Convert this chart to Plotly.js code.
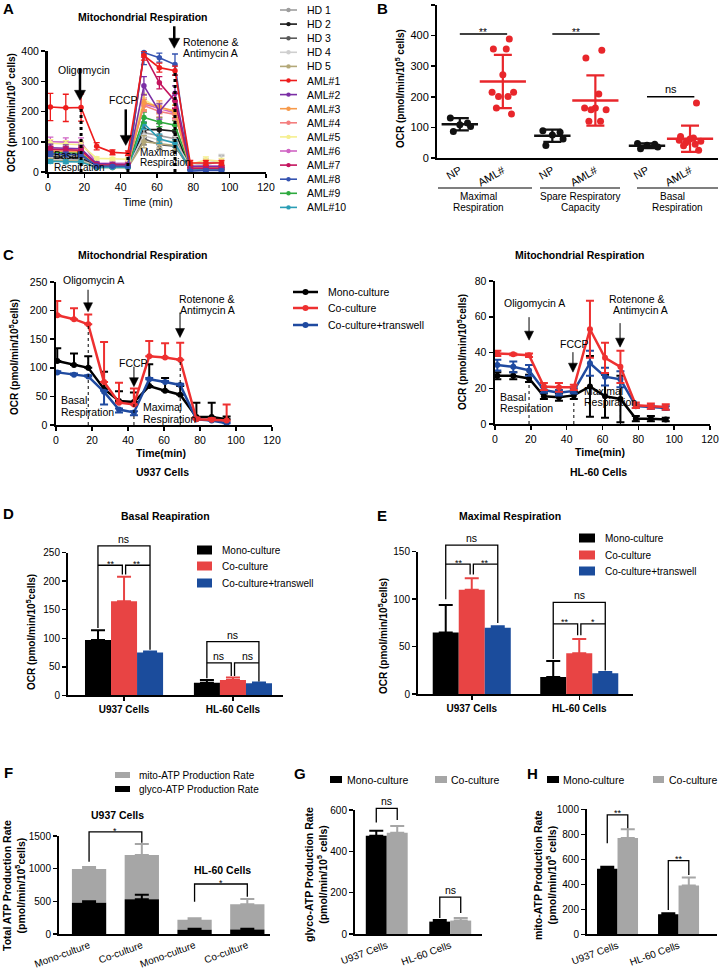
<!DOCTYPE html>
<html><head><meta charset="utf-8">
<script src="https://cdn.plot.ly/plotly-3.0.1.min.js"></script>
<style>html,body{margin:0;padding:0;background:#fff}#fig{width:720px;height:969px}</style>
</head><body><div id="fig"></div>
<script>
const W=720,H=969;
const FONT='Liberation Sans, Arial, sans-serif';

// ---------- Panel A data ----------
const tA=[1.3,9.8,18.2,26.8,35.5,44,52.8,61.3,69.9,78.3,86.9,95.5];
const aNames=['HD 1','HD 2','HD 3','HD 4','HD 5','AML#1','AML#2','AML#3','AML#4','AML#5','AML#6','AML#7','AML#8','AML#9','AML#10'];
const aColors=['#9e9e9e','#1a1a1a','#5a5a5a','#cfcfcf','#b3a878','#ee1c1c','#7b2fa5','#f79a4a','#f47f7f','#f5ef8f','#d064c4','#c4145e','#3553b0','#2eaa3e','#2a9db5'];
const aHD1=[55,53,52,22,20,20,130,120,110,15,25,35];
const aHD2=[50,48,47,18,17,17,140,140,135,10,12,12];
const aHD3=[45,44,43,17,16,16,110,90,85,10,10,10];
const aHD4=[40,40,38,20,18,18,120,105,100,20,30,38];
const aHD5=[38,37,36,15,14,14,100,95,88,12,12,12];
const aAML1=[215,212,213,85,65,62,385,345,335,30,30,30];
const aAML2=[80,78,77,28,26,25,285,200,260,18,18,18];
const aAML3=[70,68,67,25,24,24,230,215,200,15,15,15];
const aAML4=[75,72,70,26,25,25,220,200,190,14,14,14];
const aAML5=[95,92,90,45,43,42,240,210,205,25,40,35];
const aAML6=[100,98,98,30,29,29,225,210,195,20,20,20];
const aAML7=[75,73,72,24,23,23,390,295,235,12,12,12];
const aAML8=[60,58,57,20,19,19,395,378,355,3,5,5];
const aAML9=[65,63,62,22,21,21,180,165,155,14,14,14];
const aAML10=[35,34,33,15,15,15,160,110,95,8,8,8];
const aHD1e=[10,10,10,4,4,4,22,20,20,8,12,18];
const aHD2e=[8,8,8,3,3,3,25,20,18,4,4,4];
const aHD3e=[8,8,8,3,3,3,20,15,15,4,4,4];
const aHD4e=[8,8,8,3,3,3,20,18,18,10,15,20];
const aHD5e=[7,7,7,3,3,3,20,15,15,4,4,4];
const aAML1e=[45,45,45,12,8,8,15,15,15,8,8,8];
const aAML2e=[12,12,12,4,4,4,30,25,25,4,4,4];
const aAML3e=[10,10,10,4,4,4,25,20,20,4,4,4];
const aAML4e=[10,10,10,4,4,4,20,18,18,4,4,4];
const aAML5e=[12,12,12,5,5,5,20,18,18,8,10,10];
const aAML6e=[15,15,15,5,5,5,20,18,18,5,5,5];
const aAML7e=[10,10,10,4,4,4,10,20,25,4,4,4];
const aAML8e=[8,8,8,4,4,4,40,15,35,5,5,5];
const aAML9e=[8,8,8,4,4,4,18,15,15,4,4,4];
const aAML10e=[6,6,6,3,3,3,18,15,12,3,3,3];
const aY=[aHD1,aHD2,aHD3,aHD4,aHD5,aAML1,aAML2,aAML3,aAML4,aAML5,aAML6,aAML7,aAML8,aAML9,aAML10];
const aE=[aHD1e,aHD2e,aHD3e,aHD4e,aHD5e,aAML1e,aAML2e,aAML3e,aAML4e,aAML5e,aAML6e,aAML7e,aAML8e,aAML9e,aAML10e];

// ---------- Panel B data ----------
const bCats=['NP','AML#','NP','AML#','NP','AML#'];
const bMaxNP=[131,114,109,103,87];
const bMaxAML=[389,356,356,272,215,215,201,201,163,144];
const bSpareNP=[89,84,75,62,41];
const bSpareAML=[352,327,209,163,163,158,158,120,120];
const bBasalNP=[47,45,42,36,30];
const bBasalAML=[180,70,65,62,58,55,50,45,40,25];
const bMeans=[110,250,73,188,40,63];
const bSD=[20,87,20,82,8,43];

// ---------- Panel C data ----------
const cT=[0.7,10,17.9,26.7,35,43.3,51.8,60.6,69,78,86.5,94.8];
const cMono=[112,105,100,63,42,40,68,60,53,14,14,10];
const cMonoUp=[22,20,20,30,17,17,38,22,15,25,25,5];
const cCo=[192,185,176,75,39,36,120,118,114,10,9,8];
const cCoUp=[25,19,17,70,35,28,27,25,30,3,3,28];
const cTrans=[92,88,85,58,27,22,80,75,70,10,8,3];
const cTransUp=[2,2,2,2,2,2,2,2,2,2,2,2];
const cTransDn=[0,0,0,22,5,5,0,0,0,0,0,0];
const hT=[1.3,10.2,19,27.3,35.7,44,53,61.4,70,78.6,87,95.3];
const hMono=[27,27,25.5,15.5,15,16,21,15.5,14,3,3,2.5];
const hMonoErr=[2,2,2,1.5,2,2,17,12,13,1.5,1.5,1];
const hCo=[39.5,39,38.5,21,20.5,20.5,53,37,32,10.5,10,9.5];
const hCoErr=[1.5,0.5,1,2,2.5,1.5,16,8.5,9,1.5,1.5,1.5];
const hTrans=[33,32,30,19,17.5,18.5,34,26.5,25,10,9.5,9];
const hTransErr=[3,3,3,1.5,1.5,1.5,7,5,4.5,1,1,1];
const cSeries=['Mono-culture','Co-culture','Co-culture+transwell'];

// ---------- Panels D, E ----------
const cellGroups=['U937 Cells','HL-60 Cells'];
const dMono=[97,22], dMonoErr=[17,5];
const dCo=[165,27], dCoErr=[43,4];
const dTrans=[75,21], dTransErr=[2,1.5];
const eMono=[65,18], eMonoErr=[29,17];
const eCo=[110,43], eCoErr=[12,15];
const eTrans=[70,22], eTransErr=[1.5,1.5];

// ---------- Panels F, G, H ----------
const fCats=['Mono-culture','Co-culture','Mono-culture','Co-culture'];
const fGlyco=[480,530,65,70], fGlycoErr=[20,70,15,10];
const fMito=[515,680,155,385], fMitoErr=[30,166,20,80];
const gMono=[475,60], gMonoErr=[25,8];
const gCo=[490,65], gCoErr=[32,12];
const hhMono=[525,160], hhMonoErr=[15,8];
const hhCo=[770,390], hhCoErr=[70,65];

// ---------- geometry ----------
const AX={
  A:{x:[48,266],y:[51,172],xr:[0,120],yr:[0,400],id:['x','y']},
  B:{x:[437,718],y:[5,158],xr:[-0.53,6.0],yr:[0,500],id:['x2','y2']},
  C1:{x:[56,272],y:[282,425],xr:[0,120],yr:[0,250],id:['x3','y3']},
  C2:{x:[495,710],y:[281,424],xr:[0,120],yr:[0,80],id:['x4','y4']},
  D:{x:[68,283],y:[552.7,695.3],xr:[-0.514,1.46],yr:[0,250],id:['x5','y5']},
  E:{x:[418,633],y:[551.7,694.2],xr:[-0.5,1.5],yr:[0,150],id:['x6','y6']},
  F:{x:[59,270],y:[836,934],xr:[-0.57,3.43],yr:[0,1500],id:['x7','y7']},
  G:{x:[355,482],y:[810,934],xr:[-0.5,1.5],yr:[0,600],id:['x8','y8']},
  HH:{x:[587,717],y:[809.3,934.3],xr:[-0.5,1.63],yr:[0,1000],id:['x9','y9']}
};
const bPos=[0,1,2.15,3.15,4.35,5.35];
function PX(p,v){const a=AX[p];return a.x[0]+(v-a.xr[0])/(a.xr[1]-a.xr[0])*(a.x[1]-a.x[0]);}
function PY(p,v){const a=AX[p];return a.y[1]-(v-a.yr[0])/(a.yr[1]-a.yr[0])*(a.y[1]-a.y[0]);}
function X(p,v){return PX(p,v)/W;}
function Y(p,v){return 1-PY(p,v)/H;}
function T(text,x,y,o){o=o||{};return {xref:'paper',yref:'paper',x:x/W,y:1-y/H,text:text,showarrow:false,
  xanchor:o.xa||'center',yanchor:o.ya||'middle',textangle:o.rot||0,font:{family:FONT,size:o.size||10.5,color:'#000'}};}
// significance label placed relative to a bracket line (dy in px, negative = above)
function TS(p,text,xv,yv,size,dy){return T(text,PX(p,xv),PY(p,yv)+dy,{size:size});}
function LN(x0,y0,x1,y1,c,w,dash){return {type:'line',xref:'paper',yref:'paper',x0:x0/W,y0:1-y0/H,x1:x1/W,y1:1-y1/H,line:{color:c||'#000',width:w||1,dash:dash||'solid'}};}
function RC(x0,y0,x1,y1,c){return {type:'rect',xref:'paper',yref:'paper',x0:x0/W,y0:1-y0/H,x1:x1/W,y1:1-y1/H,fillcolor:c,line:{width:0}};}
function CI(cx,cy,r,c){return {type:'circle',xref:'paper',yref:'paper',x0:(cx-r)/W,x1:(cx+r)/W,y0:1-(cy+r)/H,y1:1-(cy-r)/H,fillcolor:c,line:{color:c,width:0}};}
function BRK(p,pts,w){return {type:'path',xref:'paper',yref:'paper',
  path:pts.map((q,i)=>(i?'L':'M')+X(p,q[0])+','+Y(p,q[1])).join(' '),line:{color:'#000',width:w||1.3}};}
function VL(p,xv,y0,y1,w,dash){return {type:'line',xref:'paper',yref:'paper',x0:X(p,xv),x1:X(p,xv),y0:Y(p,y0),y1:Y(p,y1),line:{color:'#000',width:w,dash:dash}};}
// downward arrow: tip at data point, shaft length len px, head length hl, half width hw
function ARW(p,xv,yv,len,w,hl,hw){
  const x=PX(p,xv), y=PY(p,yv);
  const tri='M'+((x-hw)/W)+','+(1-(y-hl)/H)+' L'+((x+hw)/W)+','+(1-(y-hl)/H)+' L'+(x/W)+','+(1-y/H)+' Z';
  return [LN(x,y-len,x,y-hl+1,'#000',w),{type:'path',xref:'paper',yref:'paper',path:tri,fillcolor:'#000',line:{color:'#000',width:0.5}}];
}

const traces=[];
// ---- A traces
const aOrder=[0,1,2,3,4,14,13,10,9,8,7,6,11,12,5];
aOrder.forEach(i=>{
  traces.push({type:'scatter',mode:'lines+markers',x:tA,y:aY[i],xaxis:'x',yaxis:'y',cliponaxis:false,
    line:{color:aColors[i],width:1.6},marker:{color:aColors[i],size:5.5},
    error_y:{type:'data',array:aE[i],color:aColors[i],thickness:1.3,width:3}});
});
// ---- B traces
const bPts=[bMaxNP,bMaxAML,bSpareNP,bSpareAML,bBasalNP,bBasalAML];
const jit10=[0.15,-0.22,0.08,0.0,-0.25,0.25,-0.1,0.12,-0.15,0.2];
const jit5=[-0.22,0.18,0.0,0.25,-0.15];
bPts.forEach((arr,g)=>{
  const col=g%2?'#e8262b':'#111';
  const jit=arr.length===5?jit5:jit10;
  traces.push({type:'scatter',mode:'markers',x:arr.map((v,k)=>bPos[g]+jit[k]),y:arr,xaxis:'x2',yaxis:'y2',cliponaxis:false,
    marker:{color:col,size:7}});
  traces.push({type:'scatter',mode:'markers',x:[bPos[g]],y:[bMeans[g]],xaxis:'x2',yaxis:'y2',cliponaxis:false,
    marker:{symbol:'line-ew',size:g%2?33:26,color:col,line:{color:col,width:2.5}},
    error_y:{type:'data',array:[bSD[g]],color:col,thickness:2.2,width:9}});
});
// ---- C traces
const cCol=['#000000','#ee3030','#1f4aa0'];
[[cMono,cMonoUp,null,0],[cTrans,cTransUp,cTransDn,2],[cCo,cCoUp,null,1]].forEach(s=>{
  const ci=s[3];
  traces.push({type:'scatter',mode:'lines+markers',x:cT,y:s[0],xaxis:'x3',yaxis:'y3',cliponaxis:false,
    line:{color:cCol[ci],width:2.5},marker:{color:cCol[ci],size:6},
    error_y:{type:'data',symmetric:false,array:s[1],arrayminus:s[2]||s[1].map(()=>0),color:cCol[ci],thickness:2,width:4}});
});
[[hMono,hMonoErr,0],[hTrans,hTransErr,2],[hCo,hCoErr,1]].forEach(s=>{
  traces.push({type:'scatter',mode:'lines+markers',x:hT,y:s[0],xaxis:'x4',yaxis:'y4',cliponaxis:false,
    line:{color:cCol[s[2]],width:2.5},marker:{color:cCol[s[2]],size:6},
    error_y:{type:'data',array:s[1],color:cCol[s[2]],thickness:2,width:4}});
});
// ---- bars
const barCol=['#000000','#e84444','#1b4c9c'];
const GRAY='#a6a6a6';
function BAR(xa,ya,y,err,w,off,col,base){
  const t={type:'bar',x:y.map((v,i)=>i),y:y,xaxis:xa,yaxis:ya,width:w,offset:off,marker:{color:col,line:{width:0}},
    error_y:{type:'data',symmetric:false,array:err,arrayminus:err.map(()=>0),color:col,thickness:2,width:7}};
  if(base) t.base=base;
  return t;
}
traces.push(BAR('x5','y5',dMono,dMonoErr,0.239,-0.358,barCol[0]));
traces.push(BAR('x5','y5',dCo,dCoErr,0.239,-0.119,barCol[1]));
traces.push(BAR('x5','y5',dTrans,dTransErr,0.239,0.12,barCol[2]));
traces.push(BAR('x6','y6',eMono,eMonoErr,0.242,-0.363,barCol[0]));
traces.push(BAR('x6','y6',eCo,eCoErr,0.242,-0.121,barCol[1]));
traces.push(BAR('x6','y6',eTrans,eTransErr,0.242,0.121,barCol[2]));
traces.push(BAR('x7','y7',fMito,fMitoErr,0.65,-0.325,GRAY,fGlyco));
traces.push(BAR('x7','y7',fGlyco,fGlycoErr,0.65,-0.325,'#000'));
traces.push(BAR('x8','y8',gMono,gMonoErr,0.33,-0.33,'#000'));
traces.push(BAR('x8','y8',gCo,gCoErr,0.33,0,GRAY));
traces.push(BAR('x9','y9',hhMono,hhMonoErr,0.336,-0.336,'#000'));
traces.push(BAR('x9','y9',hhCo,hhCoErr,0.336,0,GRAY));

// ---------- layout ----------
const layout={width:W,height:H,autosize:false,margin:{l:0,r:0,t:0,b:0},paper_bgcolor:'#fff',plot_bgcolor:'rgba(0,0,0,0)',
  showlegend:false,barmode:'overlay',hovermode:false,font:{family:FONT,size:10.5,color:'#000'},annotations:[],shapes:[]};
const extras={
  A:[{dtick:20,tick0:0},{dtick:100,linewidth:3}],
  B:[{tickvals:bPos,ticktext:bCats,tickangle:-30,ticks:'',tickfont:{size:11}},{dtick:100,tickfont:{size:11}}],
  C1:[{dtick:20},{dtick:50,linewidth:2.5}],
  C2:[{dtick:20},{dtick:20,linewidth:2.5}],
  D:[{tickvals:[0,1],ticktext:cellGroups.map(s=>'<b>'+s+'</b>'),tickfont:{size:10}},{dtick:50,tickfont:{size:10}}],
  E:[{tickvals:[0,1],ticktext:cellGroups.map(s=>'<b>'+s+'</b>'),tickfont:{size:10}},{dtick:50,tickfont:{size:10}}],
  F:[{tickvals:[0,1,2,3],ticktext:fCats,tickangle:-20,ticks:'',tickfont:{size:10}},{dtick:500,tickfont:{size:10}}],
  G:[{tickvals:[0,1],ticktext:cellGroups,tickangle:-20,ticks:'',tickfont:{size:10}},{dtick:200,tickfont:{size:10}}],
  HH:[{tickvals:[0,1],ticktext:cellGroups,tickangle:-20,ticks:'',tickfont:{size:10}},{dtick:200,tickfont:{size:10}}]
};
Object.keys(AX).forEach(k=>{
  const a=AX[k];
  const base={showgrid:false,zeroline:false,showline:true,linecolor:'#000',linewidth:2,ticks:'outside',ticklen:4,tickwidth:1.5,
    tickcolor:'#000',tickfont:{family:FONT,size:10.5,color:'#000'},fixedrange:true};
  const xk='xaxis'+a.id[0].slice(1), yk='yaxis'+a.id[1].slice(1);
  layout[xk]=Object.assign({},base,{domain:[a.x[0]/W,a.x[1]/W],range:a.xr,anchor:a.id[1]},extras[k][0]);
  layout[yk]=Object.assign({},base,{domain:[1-a.y[1]/H,1-a.y[0]/H],range:a.yr,anchor:a.id[0]},extras[k][1]);
  if(extras[k][0].tickfont) layout[xk].tickfont=Object.assign({family:FONT,color:'#000'},extras[k][0].tickfont);
  if(extras[k][1].tickfont) layout[yk].tickfont=Object.assign({family:FONT,color:'#000'},extras[k][1].tickfont);
});

const ann=layout.annotations, shp=layout.shapes;
// panel letters
[['A',8,9],['B',382,9],['C',8,254],['D',8,513],['E',382,515],['F',8,772],['G',300,773],['H',532,773]].forEach(l=>ann.push(T('<b>'+l[0]+'</b>',l[1],l[2],{size:15})));

// ---- A annotations
ann.push(T('<b>Mitochondrial Respiration</b>',143,17,{size:10.5}));
ann.push(T('<b>OCR (pmol/min/10<sup>5</sup> cells)</b>',11,113,{rot:-90,size:10}));
ann.push(T('Time (min)',148,202,{size:10.5}));
ann.push(T('Oligomycin',84,70));
ann.push(T('FCCP',123,100));
ann.push(T('Rotenone &',210,42));
ann.push(T('Antimycin A',210,53));
ann.push(T('Basal',52,156,{xa:'left',size:10}));
ann.push(T('Respiration',52,167,{xa:'left',size:10}));
ann.push(T('Maximal',138,152,{xa:'left',size:10}));
ann.push(T('Respiration',138,163,{xa:'left',size:10}));
shp.push(...ARW('A',17.6,237,32,2.5,10,5.5));
shp.push(...ARW('A',42.8,88,36,2.5,10,5.5));
shp.push(...ARW('A',69.5,409,22,2.5,10,5.5));
shp.push(VL('A',18.2,0,213,3,'dot'));
shp.push(VL('A',44,0,62,3,'dot'));
shp.push(VL('A',69.9,0,335,3,'dot'));
aNames.forEach((n,i)=>{
  const y=10+i*14.1;
  shp.push(LN(280,y,297,y,aColors[i],1.6));
  shp.push(CI(288.5,y,2.2,aColors[i]));
  ann.push(T(n,305,y,{xa:'left',size:10.5}));
});

// ---- B annotations
ann.push(T('<b>OCR (pmol/min/10<sup>5</sup> cells)</b>',400,89,{rot:-90,size:10}));
shp.push(BRK('B',[[0,405],[1.1,405]],1.5));
shp.push(BRK('B',[[2.15,405],[3.25,405]],1.5));
shp.push(BRK('B',[[4.35,200],[5.45,200]],1.5));
ann.push(TS('B','**',0.55,405,10,-1.5));
ann.push(TS('B','**',2.7,405,10,-1.5));
ann.push(TS('B','ns',4.9,200,11,-7.5));
shp.push(LN(438,188,532,188,'#000',1.2));
shp.push(LN(540,188,620,188,'#000',1.2));
shp.push(LN(637,188,718,188,'#000',1.2));
ann.push(T('Maximal',478,196,{size:10}));
ann.push(T('Respiration',478,207,{size:10}));
ann.push(T('Spare Respiratory',580,196,{size:10}));
ann.push(T('Capacity',580,207,{size:10}));
ann.push(T('Basal',672,196,{size:10}));
ann.push(T('Respiration',677,207,{size:10}));

// ---- C annotations
ann.push(T('<b>Mitochondrial Respiration</b>',143,255));
ann.push(T('<b>Mitochondrial Respiration</b>',580,255));
ann.push(T('<b>OCR (pmol/min/10<sup>5</sup>cells)</b>',14,357,{rot:-90,size:10}));
ann.push(T('<b>OCR (pmol/min/10<sup>5</sup>cells)</b>',462,352,{rot:-90,size:10}));
ann.push(T('<b>Time(min)</b>',161,453));
ann.push(T('<b>U937 Cells</b>',162,472));
ann.push(T('<b>Time(min)</b>',600,452));
ann.push(T('<b>HL-60 Cells</b>',598,472));
ann.push(T('Oligomycin A',93,280));
ann.push(T('FCCP',133,363));
ann.push(T('Rotenone &',207,299));
ann.push(T('Antimycin A',208,310));
ann.push(T('Basal',59,400,{xa:'left'}));
ann.push(T('Respiration',59,412,{xa:'left'}));
ann.push(T('Maximal',141,407,{xa:'left'}));
ann.push(T('Respiration',141,419,{xa:'left'}));
shp.push(...ARW('C1',17.8,198,22,1,9,4.5));
shp.push(...ARW('C1',43.3,67,20,1,9,4.5));
shp.push(...ARW('C1',68.9,153,25,1,9,4.5));
shp.push(VL('C1',17.9,0,176,1,'dot'));
shp.push(VL('C1',43.3,0,40,1,'dot'));
shp.push(VL('C1',69,0,114,1,'dot'));
ann.push(T('Oligomycin A',534,303));
ann.push(T('FCCP',574,344));
ann.push(T('Rotenone &',636,299));
ann.push(T('Antimycin A',640,310));
ann.push(T('Basal',498,397,{xa:'left'}));
ann.push(T('Respiration',498,408,{xa:'left'}));
ann.push(T('Maximal',582,391,{xa:'left'}));
ann.push(T('Respiration',582,402,{xa:'left'}));
shp.push(...ARW('C2',19,46.9,23,1,9,4.5));
shp.push(...ARW('C2',43.5,29,20,1,9,4.5));
shp.push(...ARW('C2',69.8,43,24,1,9,4.5));
shp.push(VL('C2',19,0,25.5,1,'dot'));
shp.push(VL('C2',44,0,16,1,'dot'));
shp.push(VL('C2',70,0,14,1,'dot'));
[[cCol[0],292],[cCol[1],308],[cCol[2],325]].forEach((s,i)=>{
  shp.push(LN(293,s[1],318,s[1],s[0],2.5));
  shp.push(CI(305.5,s[1],3,s[0]));
  ann.push(T(cSeries[i],326,s[1],{xa:'left'}));
});

// ---- D annotations
ann.push(T('<b>Basal Reapiration</b>',165,516));
ann.push(T('<b>OCR (pmol/min/10<sup>5</sup>cells)</b>',31,632,{rot:-90,size:10}));
shp.push(BRK('D',[[-0.239,118],[-0.239,262],[0.239,262],[0.239,80]]));
shp.push(BRK('D',[[-0.239,228],[-0.015,228],[-0.015,212]]));
shp.push(BRK('D',[[0.015,212],[0.015,228],[0.239,228]]));
ann.push(TS('D','ns',0,262,10.5,-7));
ann.push(TS('D','**',-0.12,228,9,-1.5));
ann.push(TS('D','**',0.12,228,9,-1.5));
shp.push(BRK('D',[[0.761,30],[0.761,94],[1.239,94],[1.239,24]]));
shp.push(BRK('D',[[0.761,57],[0.985,57],[0.985,34]]));
shp.push(BRK('D',[[1.015,34],[1.015,57],[1.239,57]]));
ann.push(TS('D','ns',1,94,10.5,-7));
ann.push(TS('D','ns',0.87,57,10.5,-7));
ann.push(TS('D','ns',1.13,57,10.5,-7));
[[barCol[0],550],[barCol[1],566],[barCol[2],583]].forEach((s,i)=>{
  shp.push(RC(197,s[1]-4.5,212,s[1]+4.5,s[0]));
  ann.push(T(cSeries[i],220,s[1],{xa:'left',size:10}));
});

// ---- E annotations
ann.push(T('<b>Maximal Respiration</b>',510,516));
ann.push(T('<b>OCR (pmol/min/10<sup>5</sup>cells)</b>',383,636,{rot:-90,size:10}));
shp.push(BRK('E',[[-0.242,100],[-0.242,157],[0.242,157],[0.242,75]]));
shp.push(BRK('E',[[-0.242,137],[-0.015,137],[-0.015,126]]));
shp.push(BRK('E',[[0.015,126],[0.015,137],[0.242,137]]));
ann.push(TS('E','ns',0,157,10.5,-7));
ann.push(TS('E','**',-0.12,137,9,-1.5));
ann.push(TS('E','**',0.12,137,9,-1.5));
shp.push(BRK('E',[[0.758,37],[0.758,96.7],[1.242,96.7],[1.242,25]]));
shp.push(BRK('E',[[0.758,74],[0.985,74],[0.985,62]]));
shp.push(BRK('E',[[1.015,62],[1.015,74],[1.242,74]]));
ann.push(TS('E','ns',1,96.7,10.5,-7));
ann.push(TS('E','**',0.87,74,9,-1.5));
ann.push(TS('E','*',1.13,74,9,-1.5));
[[barCol[0],538],[barCol[1],555],[barCol[2],571]].forEach((s,i)=>{
  shp.push(RC(579,s[1]-4.5,595,s[1]+4.5,s[0]));
  ann.push(T(cSeries[i],603,s[1],{xa:'left',size:10}));
});

// ---- F annotations
ann.push(T('<b>Total ATP Production Rate</b><br><b>(pmol/min/10<sup>5</sup>cells)</b>',14,886,{rot:-90,size:10.5}));
shp.push(RC(115,772,130,778,GRAY));
shp.push(RC(115,786,130,792,'#000'));
ann.push(T('mito-ATP Production Rate',137,775,{xa:'left',size:10}));
ann.push(T('glyco-ATP Production Rate',137,789,{xa:'left',size:10}));
ann.push(T('<b>U937 Cells</b>',117,815));
ann.push(T('<b>HL-60 Cells</b>',222,870));
shp.push(BRK('F',[[0,1105],[0,1564],[1,1564],[1,1396]]));
ann.push(TS('F','*',0.5,1564,9,-1));
shp.push(BRK('F',[[2,494],[2,765],[3,765],[3,570]]));
ann.push(TS('F','*',2.5,765,9,-1));

// ---- G annotations
ann.push(T('<b>glyco-ATP Production Rate</b><br><b>(pmol/min/10<sup>5</sup> cells)</b>',316,875,{rot:-90,size:10.5}));
shp.push(RC(330,776,342,783,'#000'));
ann.push(T('Mono-culture',345,779.5,{xa:'left'}));
shp.push(RC(435,776,447,783,GRAY));
ann.push(T('Co-culture',449,779.5,{xa:'left'}));
shp.push(BRK('G',[[-0.165,539],[-0.165,608],[0.165,608],[0.165,552]]));
ann.push(TS('G','ns',0,608,10.5,-7));
shp.push(BRK('G',[[0.835,77],[0.835,178],[1.165,178],[1.165,102]]));
ann.push(TS('G','ns',1,178,10.5,-7));

// ---- H annotations
ann.push(T('<b>mito-ATP Production Rate</b><br><b>(pmol/min/10<sup>5</sup> cells)</b>',545,875,{rot:-90,size:10.5}));
shp.push(RC(547,776,559,783,'#000'));
ann.push(T('Mono-culture',561,779.5,{xa:'left'}));
shp.push(RC(653,776,664,783,GRAY));
ann.push(T('Co-culture',667,779.5,{xa:'left'}));
shp.push(BRK('HH',[[-0.168,728],[-0.168,955],[0.168,955],[0.168,848]]));
ann.push(TS('HH','**',0,955,9,-1.5));
shp.push(BRK('HH',[[0.832,195],[0.832,589],[1.168,589],[1.168,475]]));
ann.push(TS('HH','**',1,589,9,-1.5));

Plotly.newPlot('fig',traces,layout,{staticPlot:true,displayModeBar:false});
</script></body></html>
